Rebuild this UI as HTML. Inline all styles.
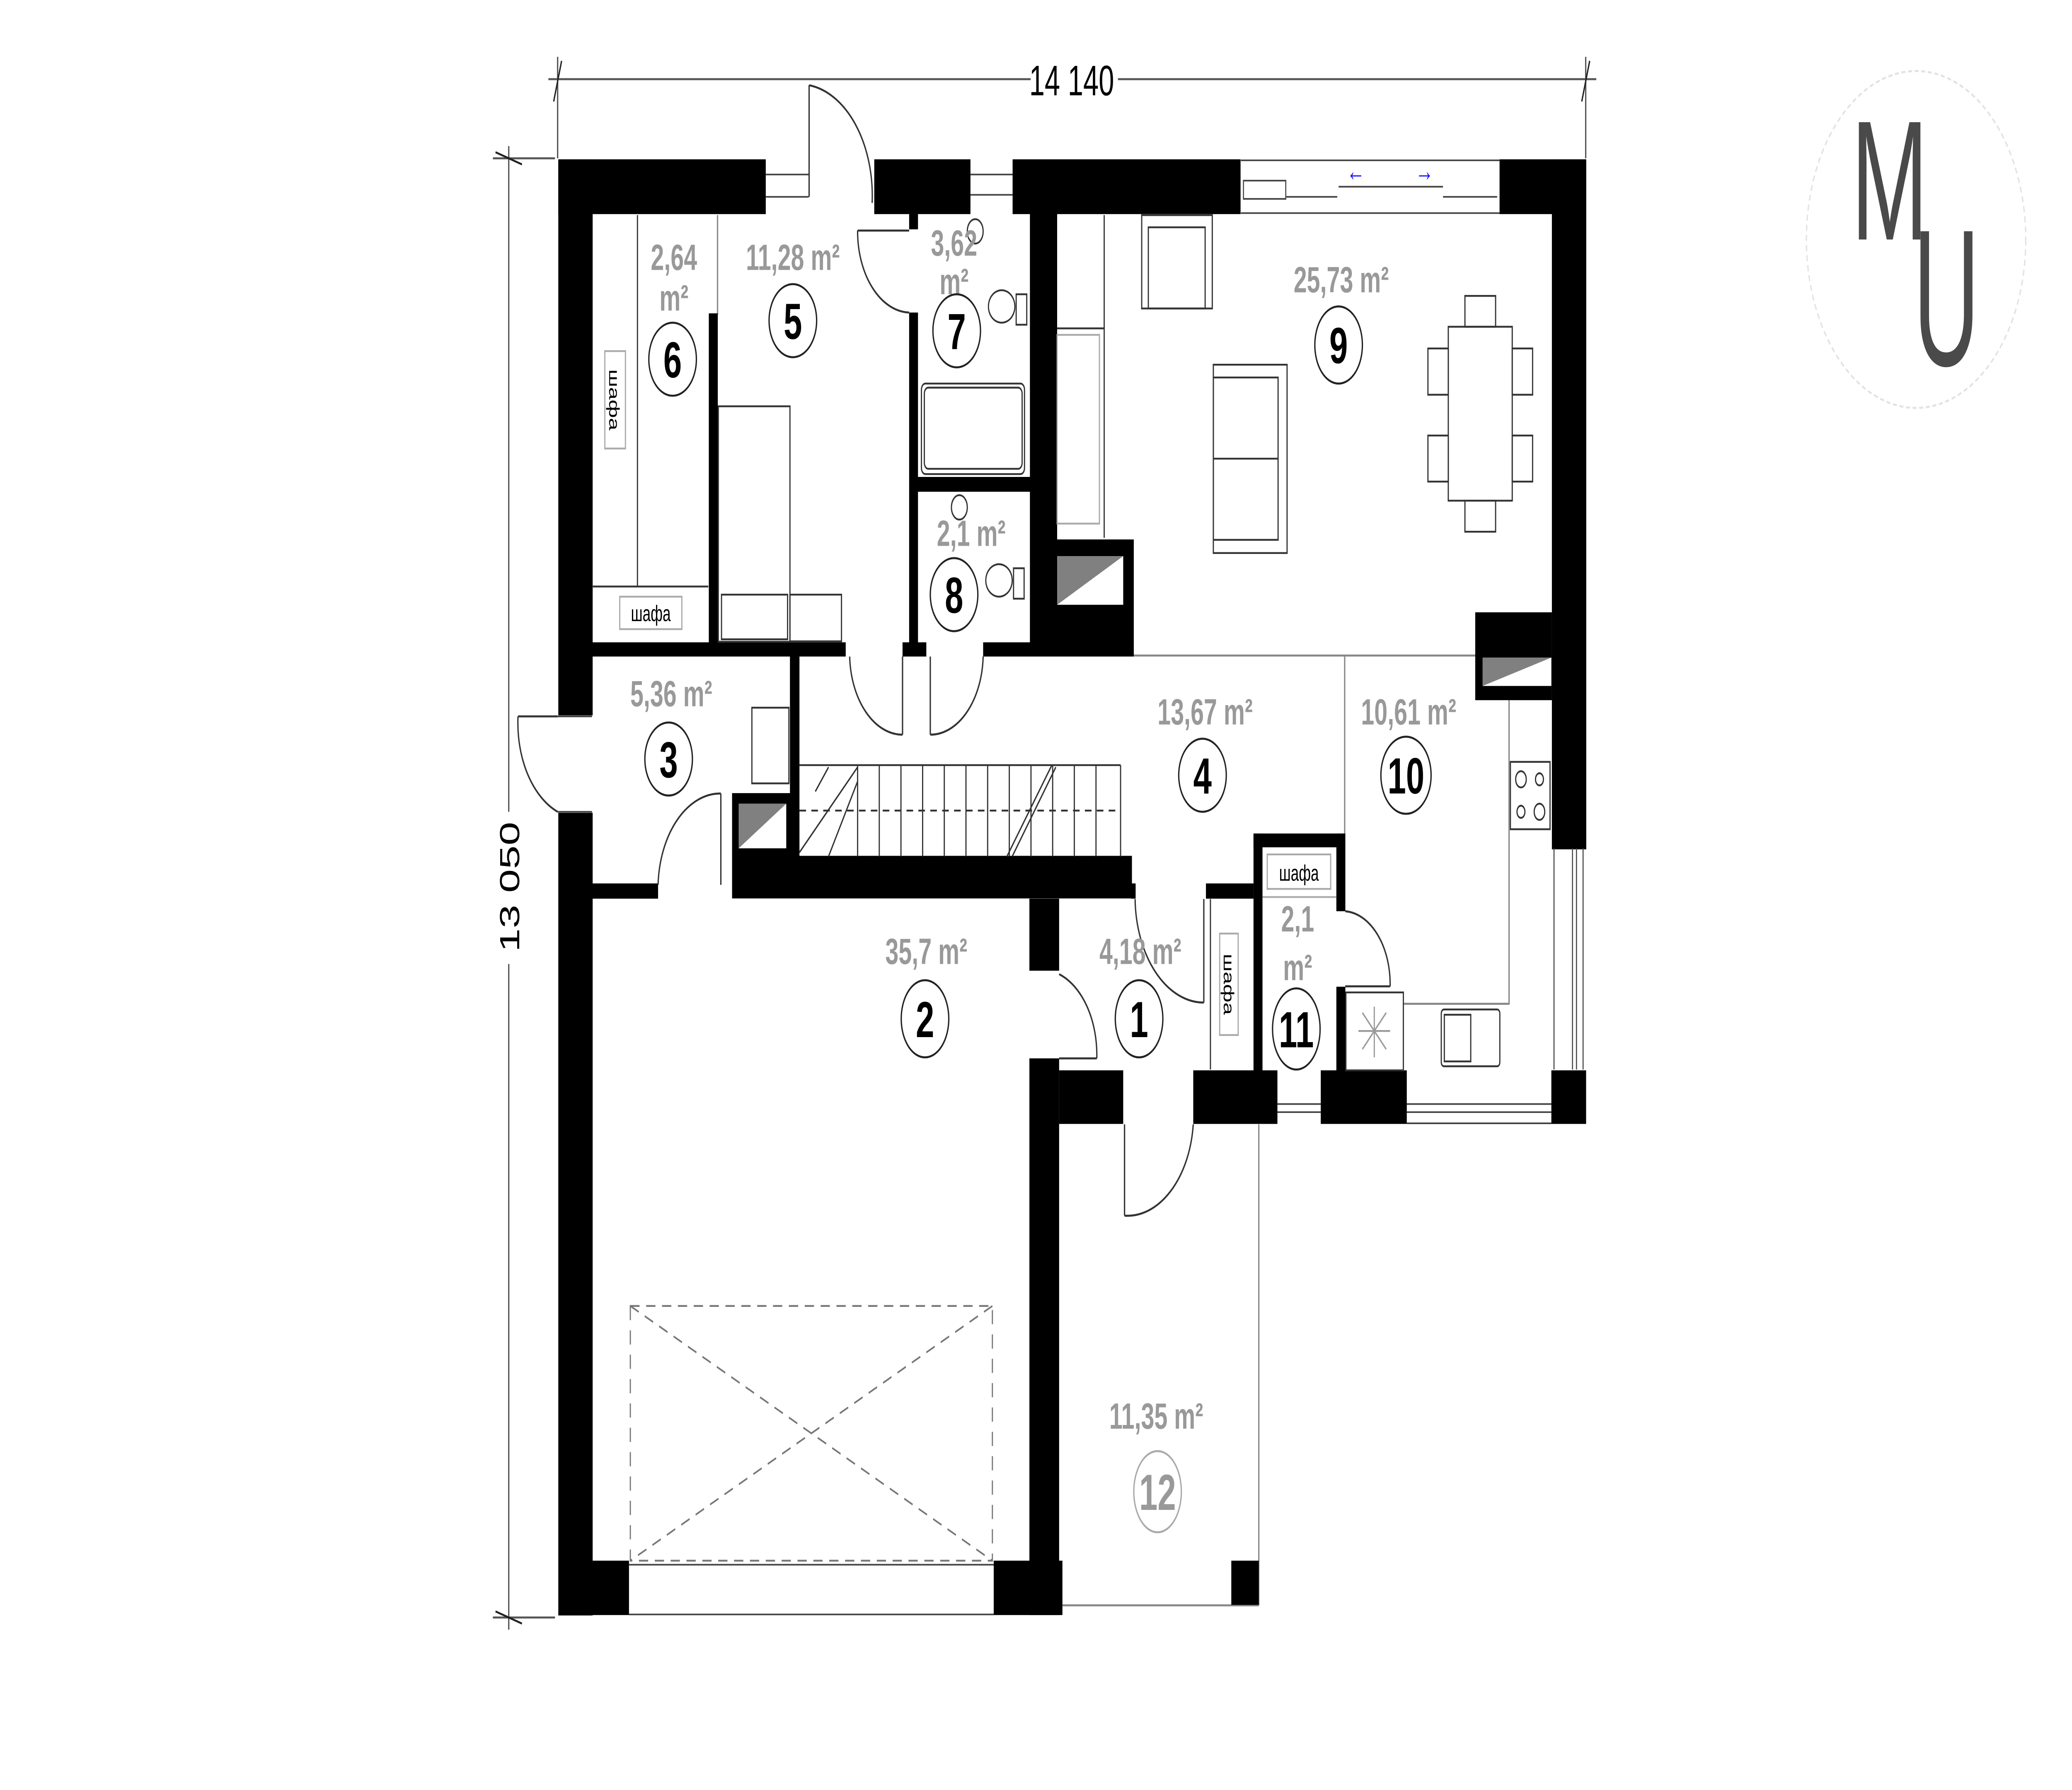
<!DOCTYPE html>
<html><head><meta charset="utf-8">
<style>
html,body{margin:0;padding:0;background:#fff;width:100%;height:100%;overflow:hidden;}
svg{position:fixed;left:0;top:0;width:100vw;height:100vh;display:block;}
</style></head>
<body>
<svg xmlns="http://www.w3.org/2000/svg" viewBox="0 0 1568 882" preserveAspectRatio="none" font-family="Liberation Sans, sans-serif">
<rect x="0" y="0" width="1568" height="882" fill="#fff"/>

<g stroke="#555" stroke-width="1" fill="none">
  <line x1="415" y1="39" x2="780" y2="39"/>
  <line x1="846" y1="39" x2="1208" y2="39"/>
  <line x1="422" y1="28" x2="422" y2="78"/>
  <line x1="1200" y1="28" x2="1200" y2="78"/>
  <line x1="419" y1="50" x2="425" y2="30" stroke="#222"/>
  <line x1="1197" y1="50" x2="1203" y2="30" stroke="#222"/>
  <line x1="385" y1="72" x2="385" y2="400"/>
  <line x1="385" y1="475" x2="385" y2="803"/>
  <line x1="373" y1="78" x2="420" y2="78"/>
  <line x1="373" y1="797" x2="420" y2="797"/>
  <line x1="375" y1="75" x2="395" y2="81" stroke="#222"/>
  <line x1="375" y1="794" x2="395" y2="800" stroke="#222"/>
</g>
<text x="811" y="47" font-size="21" text-anchor="middle" fill="#000">14 140</text>
<text x="0" y="0" font-size="21" text-anchor="middle" fill="#000" transform="translate(393,437) rotate(-90)">13 050</text>

<g stroke="#888" stroke-width="1" fill="none">
  <line x1="858" y1="323" x2="1142" y2="323"/>
  <line x1="1017.6" y1="323" x2="1017.6" y2="411"/>
  <line x1="801" y1="791" x2="952.6" y2="791"/>
  <line x1="952.6" y1="554" x2="952.6" y2="791"/>
  <line x1="543" y1="106" x2="543" y2="155"/>
  <line x1="1142" y1="345" x2="1142" y2="495"/>
  <line x1="1062" y1="494.6" x2="1142" y2="494.6"/>
</g>

<g fill="#000">
  <rect x="422.5" y="78.5" width="157" height="27"/>
  <rect x="661.6" y="78.5" width="72.8" height="27"/>
  <rect x="766.3" y="78.5" width="172.5" height="27"/>
  <rect x="1134.8" y="78.5" width="65.5" height="27"/>
  <rect x="422.5" y="78.5" width="26" height="274"/>
  <rect x="422.5" y="400.5" width="26" height="395.5"/>
  <rect x="1174.4" y="78.5" width="26" height="340"/>
  <rect x="536.4" y="154.4" width="6.8" height="165"/>
  <rect x="688" y="154" width="6.7" height="169"/>
  <rect x="688" y="105" width="6.7" height="8"/>
  <rect x="779.4" y="105" width="20.6" height="218"/>
  <rect x="694" y="235" width="86" height="7.3"/>
  <rect x="448" y="316.5" width="192" height="7"/>
  <rect x="683" y="316.5" width="18" height="7"/>
  <rect x="744" y="316.5" width="114" height="7"/>
  <rect x="796" y="265.8" width="62" height="57"/>
  <rect x="597.8" y="323" width="7.2" height="100"/>
  <rect x="554" y="421.7" width="302.6" height="21"/>
  <rect x="554" y="390.8" width="44" height="31"/>
  <rect x="448" y="435.3" width="50" height="7.5"/>
  <rect x="856" y="435.3" width="3.4" height="7.5"/>
  <rect x="912.6" y="435.3" width="36" height="7.5"/>
  <rect x="948.6" y="410.7" width="69.4" height="6.8"/>
  <rect x="948.6" y="410.7" width="6.8" height="117"/>
  <rect x="1011.3" y="410.7" width="6.8" height="38.3"/>
  <rect x="1011.3" y="486.2" width="6.8" height="41.3"/>
  <rect x="1116.4" y="301.7" width="58" height="43.3"/>
  <rect x="779" y="442.8" width="22.5" height="35.5"/>
  <rect x="779" y="521.5" width="22.5" height="274.3"/>
  <rect x="801.5" y="527.4" width="48.5" height="26.4"/>
  <rect x="903" y="527.4" width="63.7" height="26.4"/>
  <rect x="999.5" y="527.4" width="65.1" height="26.4"/>
  <rect x="1174" y="527.4" width="26.3" height="26.4"/>
  <rect x="423.8" y="769" width="52.2" height="26.8"/>
  <rect x="752" y="769" width="52" height="26.8"/>
  <rect x="931.8" y="769" width="20.8" height="21.8"/>
</g>

<rect x="800" y="274" width="50" height="24" fill="#fff"/>
<polygon points="800,298 850,274 800,274" fill="#808080"/>
<rect x="559" y="396" width="36" height="22" fill="#fff"/>
<polygon points="559,418 595,396 559,396" fill="#808080"/>
<rect x="1122" y="324" width="52" height="14" fill="#fff"/>
<polygon points="1122,338 1174,324 1122,324" fill="#808080"/>

<g stroke="#444" stroke-width="0.8" fill="none">
  <line x1="579.5" y1="86" x2="612" y2="86"/><line x1="579.5" y1="97" x2="612" y2="97"/>
  <line x1="734.4" y1="86" x2="766.3" y2="86"/><line x1="734.4" y1="96" x2="766.3" y2="96"/>
  <line x1="939" y1="79" x2="1134.8" y2="79"/>
  <line x1="939" y1="105" x2="1134.8" y2="105"/>
  <rect x="941" y="89" width="32" height="9"/>
  <line x1="973" y1="97" x2="1012" y2="97"/>
  <line x1="1013" y1="92" x2="1092" y2="92"/>
  <line x1="1092" y1="97" x2="1133" y2="97"/>
  <line x1="1176" y1="418" x2="1176" y2="527"/>
  <line x1="1198" y1="418" x2="1198" y2="527"/>
  <line x1="1190" y1="418" x2="1190" y2="527"/>
  <line x1="1193" y1="418" x2="1193" y2="527"/>
  <line x1="966.7" y1="544" x2="999.5" y2="544"/><line x1="966.7" y1="548" x2="999.5" y2="548"/>
  <line x1="1064.6" y1="544" x2="1174" y2="544"/><line x1="1064.6" y1="548" x2="1174" y2="548"/>
  <line x1="1064.6" y1="553.5" x2="1174" y2="553.5"/>
  <line x1="476" y1="771" x2="752" y2="771"/>
  <line x1="476" y1="795.5" x2="752" y2="795.5"/>
  <line x1="422" y1="353" x2="448" y2="353"/><line x1="422" y1="400" x2="448" y2="400"/>
</g>
<text x="1026" y="89" font-size="14" fill="#1a1aff" text-anchor="middle">←</text>
<text x="1078" y="89" font-size="14" fill="#1a1aff" text-anchor="middle">→</text>

<g stroke="#333" stroke-width="1" fill="none">
  <line x1="612.3" y1="42" x2="612.3" y2="97"/>
  <path d="M612.3 42 A55 55 0 0 1 660 100"/>
  <line x1="649" y1="113.6" x2="688" y2="113.6"/>
  <path d="M649 113.6 A40 40 0 0 0 688 154"/>
  <line x1="683" y1="323.5" x2="683" y2="362"/>
  <path d="M643 323.5 A40 40 0 0 0 683 362"/>
  <line x1="704" y1="323.5" x2="704" y2="362"/>
  <path d="M744 323.5 A40 40 0 0 1 704 362"/>
  <line x1="392" y1="353" x2="422" y2="353"/>
  <path d="M392 353 A47 47 0 0 0 422 400"/>
  <line x1="545.5" y1="391" x2="545.5" y2="436"/>
  <path d="M545.5 391 A47 47 0 0 0 498 436"/>
  <line x1="911" y1="443" x2="911" y2="494"/>
  <path d="M859 443 A52 52 0 0 0 911 494"/>
  <line x1="801.5" y1="521.5" x2="830" y2="521.5"/>
  <path d="M801.5 480 A42 42 0 0 1 830 521.5"/>
  <line x1="851" y1="554" x2="851" y2="599"/>
  <path d="M851 599 A50 50 0 0 0 903 554"/>
  <line x1="1018" y1="486" x2="1052" y2="486"/>
  <path d="M1018 449 A36 36 0 0 1 1052 486"/>
</g>

<g stroke="#333" stroke-width="0.9" fill="none">
  <line x1="482.4" y1="106" x2="482.4" y2="289"/>
  <line x1="448" y1="289" x2="536" y2="289"/>
  <rect x="457.7" y="173" width="15.6" height="48" stroke="#aaa"/>
  <rect x="469" y="294" width="47" height="16" stroke="#aaa"/>
  <rect x="543.6" y="200.2" width="54.2" height="116"/>
  <rect x="546" y="293" width="50" height="22"/>
  <rect x="597.8" y="293" width="39" height="23"/>
  <rect x="697.3" y="189" width="78" height="44.6" rx="3"/>
  <rect x="699.5" y="191" width="74" height="40" rx="3"/>
  <circle cx="738" cy="114" r="6"/>
  <ellipse cx="758" cy="151" rx="10" ry="8"/>
  <rect x="769" y="145" width="8" height="15"/>
  <circle cx="726" cy="250" r="6"/>
  <ellipse cx="756" cy="286" rx="10" ry="8"/>
  <rect x="767" y="280" width="8" height="15"/>
  <line x1="835.6" y1="106" x2="835.6" y2="265"/>
  <line x1="800" y1="161.8" x2="835.6" y2="161.8"/>
  <rect x="800" y="165" width="32" height="93" stroke="#aaa"/>
  <rect x="569" y="348.7" width="28" height="37.3"/>
  <rect x="864" y="106" width="53.4" height="46"/>
  <rect x="869" y="112" width="43" height="40"/>
  <rect x="918.2" y="179.7" width="55.8" height="92.8"/>
  <rect x="918.2" y="186" width="49" height="80"/>
  <line x1="918.2" y1="226" x2="967" y2="226"/>
  <rect x="1096" y="161" width="48.4" height="85.7"/>
  <rect x="1108.6" y="145.8" width="23.2" height="15.2"/>
  <rect x="1108.6" y="246.7" width="23.2" height="15.3"/>
  <rect x="1080.6" y="171.7" width="15.4" height="22.8"/>
  <rect x="1080.6" y="214.6" width="15.4" height="22.7"/>
  <rect x="1144.4" y="171.7" width="15.4" height="22.8"/>
  <rect x="1144.4" y="214.6" width="15.4" height="22.7"/>
  <rect x="1143" y="375.4" width="30" height="33.2"/>
  <circle cx="1151" cy="384" r="4"/><circle cx="1165" cy="384" r="3"/>
  <circle cx="1151" cy="400" r="3"/><circle cx="1165" cy="400" r="4"/>
  <rect x="1018.5" y="489" width="43.5" height="38.4"/>
  <line x1="1040" y1="496" x2="1040" y2="521" stroke="#999"/>
  <line x1="1028" y1="508" x2="1052" y2="508" stroke="#999"/>
  <line x1="1031" y1="499" x2="1049" y2="517" stroke="#999"/>
  <line x1="1049" y1="499" x2="1031" y2="517" stroke="#999"/>
  <rect x="1090.7" y="497.4" width="44.3" height="28" rx="2"/>
  <rect x="1093" y="500" width="20" height="23"/>
  <line x1="916" y1="443" x2="916" y2="527"/>
  <rect x="923" y="460" width="14" height="50" stroke="#aaa"/>
  <line x1="955.4" y1="442" x2="1011.3" y2="442" stroke="#aaa"/>
  <rect x="959" y="421" width="48" height="17" stroke="#aaa"/>
  <line x1="605" y1="377" x2="848" y2="377"/>
  <line x1="848" y1="377" x2="848" y2="422"/>
</g>
<g stroke="#333" stroke-width="0.9">
  <line x1="649" y1="377" x2="649" y2="422"/><line x1="665.4" y1="377" x2="665.4" y2="422"/>
  <line x1="681.8" y1="377" x2="681.8" y2="422"/><line x1="698.2" y1="377" x2="698.2" y2="422"/>
  <line x1="714.6" y1="377" x2="714.6" y2="422"/><line x1="731" y1="377" x2="731" y2="422"/>
  <line x1="747.4" y1="377" x2="747.4" y2="422"/><line x1="763.8" y1="377" x2="763.8" y2="422"/>
  <line x1="780.2" y1="377" x2="780.2" y2="422"/><line x1="796.6" y1="377" x2="796.6" y2="422"/>
  <line x1="813" y1="377" x2="813" y2="422"/><line x1="829.4" y1="377" x2="829.4" y2="422"/>
  <line x1="605" y1="420" x2="649" y2="378"/><line x1="627" y1="422" x2="649" y2="385"/>
  <line x1="617" y1="390" x2="627" y2="378"/>
  <line x1="762" y1="422" x2="796" y2="377"/><line x1="766" y1="422" x2="799" y2="378"/>
  <line x1="605" y1="399.4" x2="848" y2="399.4" stroke-dasharray="5,4"/>
  <rect x="477" y="643.5" width="274" height="125.5" fill="none" stroke="#777" stroke-dasharray="7,5"/>
  <line x1="477" y1="643.5" x2="751" y2="769" stroke="#777" stroke-dasharray="7,5"/>
  <line x1="751" y1="643.5" x2="477" y2="769" stroke="#777" stroke-dasharray="7,5"/>
</g>

<text x="0" y="0" font-size="11" fill="#000" text-anchor="middle" transform="translate(461,197) rotate(90)">шафа</text>
<text x="492.5" y="306" font-size="11" fill="#000" text-anchor="middle">шафа</text>
<text x="0" y="0" font-size="11" fill="#000" text-anchor="middle" transform="translate(926,485) rotate(90)">шафа</text>
<text x="983" y="434" font-size="11" fill="#000" text-anchor="middle">шафа</text>

<g font-size="18" font-weight="bold" fill="#999" text-anchor="middle">
  <text x="510" y="133">2,64</text>
  <text x="510" y="153">m²</text>
  <text x="600" y="133">11,28 m²</text>
  <text x="722" y="126">3,62</text>
  <text x="722" y="145">m²</text>
  <text x="735" y="269">2,1 m²</text>
  <text x="1015" y="144">25,73 m²</text>
  <text x="508" y="348">5,36 m²</text>
  <text x="912" y="357">13,67 m²</text>
  <text x="1066" y="357">10,61 m²</text>
  <text x="701" y="475">35,7 m²</text>
  <text x="863" y="475">4,18 m²</text>
  <text x="982" y="459">2,1</text>
  <text x="982" y="483">m²</text>
  <text x="875" y="704">11,35 m²</text>
</g>

<g stroke="#222" stroke-width="1" fill="none">
  <circle cx="509" cy="177" r="18"/>
  <circle cx="600" cy="158" r="18"/>
  <circle cx="724" cy="163" r="18"/>
  <circle cx="722" cy="293" r="18"/>
  <ellipse cx="1013" cy="170" rx="18" ry="19"/>
  <circle cx="506" cy="374" r="18"/>
  <circle cx="910" cy="382" r="18"/>
  <ellipse cx="1064" cy="382" rx="19" ry="19"/>
  <ellipse cx="700" cy="502" rx="18" ry="19"/>
  <ellipse cx="862" cy="502" rx="18" ry="19"/>
  <ellipse cx="981" cy="507" rx="18" ry="20"/>
  <ellipse cx="876" cy="735" rx="18" ry="20" stroke="#aaa"/>
</g>
<g font-size="25" font-weight="bold" fill="#000" text-anchor="middle">
  <text x="509" y="186">6</text>
  <text x="600" y="167">5</text>
  <text x="724" y="172">7</text>
  <text x="722" y="302">8</text>
  <text x="1013" y="179">9</text>
  <text x="506" y="383">3</text>
  <text x="910" y="391">4</text>
  <text x="1064" y="391">10</text>
  <text x="700" y="511">2</text>
  <text x="862" y="511">1</text>
  <text x="981" y="516">11</text>
  <text x="876" y="744" fill="#999">12</text>
</g>

<ellipse cx="1450" cy="118" rx="83" ry="83" fill="none" stroke="#e2e2e2" stroke-width="1" stroke-dasharray="3,2"/>
<text x="1401" y="118" font-size="84" fill="#4a4a4a" textLength="58" lengthAdjust="spacingAndGlyphs">M</text>
<text x="1448" y="180" font-size="96" fill="#4a4a4a" textLength="50" lengthAdjust="spacingAndGlyphs">U</text>
</svg>
</body></html>
